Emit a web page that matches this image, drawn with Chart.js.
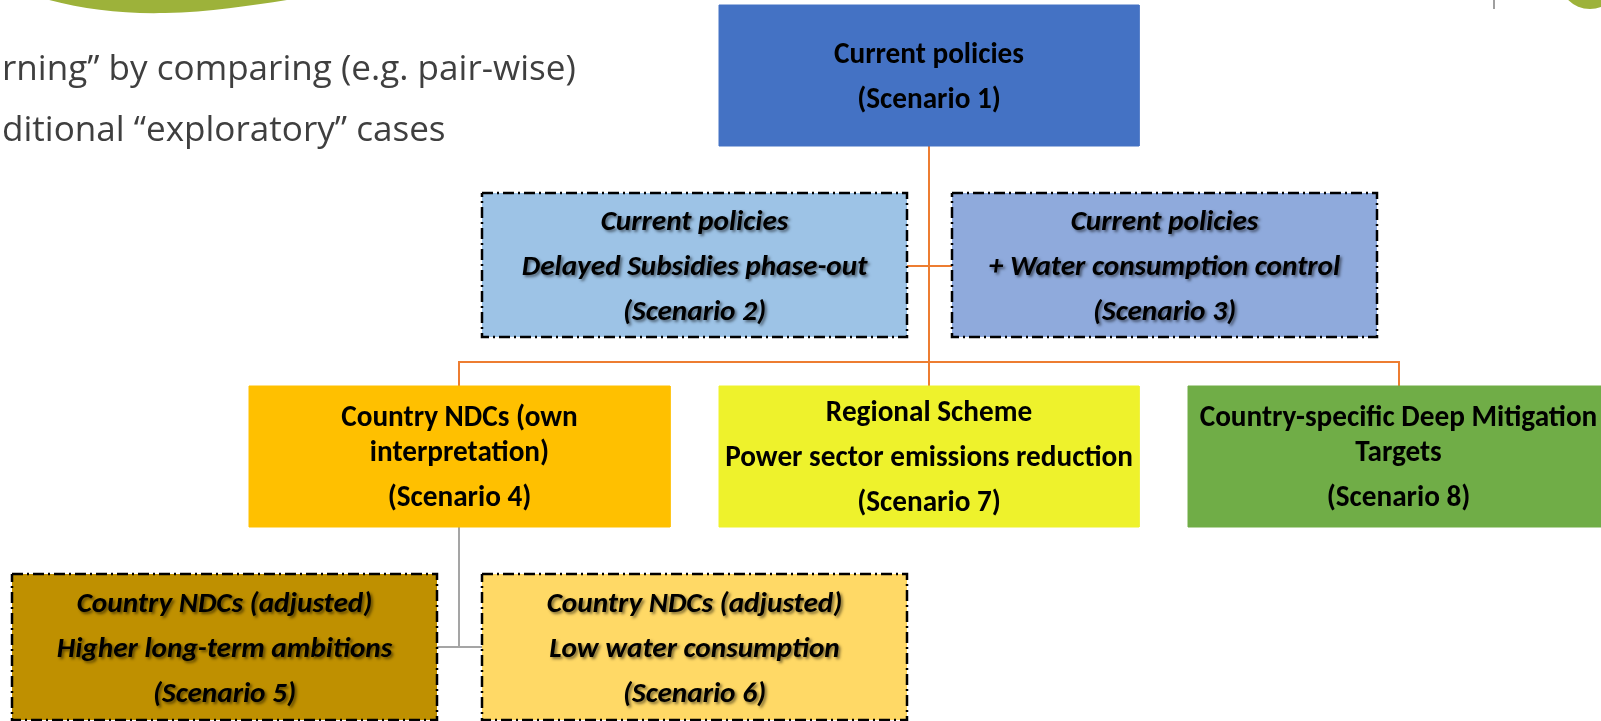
<!DOCTYPE html>
<html>
<head>
<meta charset="utf-8">
<script src="https://cdn.jsdelivr.net/npm/chart.js@4.4.1/dist/chart.umd.min.js"></script>
<style>
html, body { margin: 0; padding: 0; background: #ffffff; overflow: hidden; }
#wrap { position: relative; width: 1601px; height: 721px; }
</style>
</head>
<body>
<div id="wrap"><canvas id="diagram"></canvas></div>
<script>
// scenario boxes, in slide units (x to the right, y downwards)
const scenarios = ['Scenario 1', 'Scenario 2', 'Scenario 3', 'Scenario 4', 'Scenario 5', 'Scenario 6', 'Scenario 7', 'Scenario 8'];
const boxLeft   = [719, 482, 952, 249, 12, 482, 719, 1188];
const boxRight  = [1139, 907, 1377, 670, 437, 907, 1139, 1609];
const boxTop    = [5, 193, 193, 386, 574, 574, 386, 386];
const boxBottom = [146, 337, 337, 527, 720, 720, 527, 527];
// paragraphs per box, each paragraph may wrap over several lines
const boxText = [
    [['Current policies'], ['(Scenario 1)']],
    [['Current policies'], ['Delayed Subsidies phase-out'], ['(Scenario 2)']],
    [['Current policies'], ['+ Water consumption control'], ['(Scenario 3)']],
    [['Country NDCs (own', 'interpretation)'], ['(Scenario 4)']],
    [['Country NDCs (adjusted)'], ['Higher long-term ambitions'], ['(Scenario 5)']],
    [['Country NDCs (adjusted)'], ['Low water consumption'], ['(Scenario 6)']],
    [['Regional Scheme'], ['Power sector emissions reduction'], ['(Scenario 7)']],
    [['Country-specific Deep Mitigation', 'Targets'], ['(Scenario 8)']]
];
const exploratory = [false, true, true, false, true, true, false, false];

// connectors
const orangeLinks = [
    [[929, 146], [929, 386]],
    [[907, 266], [952, 266]],
    [[459, 386], [459, 362], [1399, 362], [1399, 386]]
];
const greyLinks = [
    [[459, 527], [459, 647]],
    [[437, 647], [482, 647]]
];

// slide body text (cut at the left edge in the original)
const slideText = ['rning\u201D by comparing (e.g. pair-wise)', 'ditional \u201Cexploratory\u201D cases'];
const slideTextY = [70, 131];

// styles
const boxColors = ['#4472C4', '#9DC3E6', '#8FAADC', '#FFC000', '#BF9000', '#FFD966', '#EEF22C', '#70AD47'];
const orange = '#ED7D31';
const grey = '#A5A5A5';
const slideGreen = '#9DB23A';

function pickFont(list) {
    const c = document.createElement('canvas').getContext('2d');
    const probe = 'Power sector emissions reduction WMwm';
    for (const name of list) {
        let same = true;
        for (const fb of ['monospace', 'serif']) {
            c.font = 'bold 60px ' + fb;
            const a = c.measureText(probe).width;
            c.font = 'bold 60px "' + name + '", ' + fb;
            if (c.measureText(probe).width !== a) { same = false; }
        }
        if (!same) return '"' + name + '"';
    }
    return 'sans-serif';
}
const boxFamily = pickFont(['Carlito', 'Liberation Sans Narrow', 'Roboto', 'Liberation Sans']);
const bodyFamily = pickFont(['Open Sans', 'Noto Sans', 'DejaVu Sans']);

function fitSize(font, text, target) {
    const c = document.createElement('canvas').getContext('2d');
    c.font = font.replace('SIZE', '100px');
    return 100 * target / c.measureText(text).width;
}
const boxSize = fitSize('bold SIZE ' + boxFamily, 'Power sector emissions reduction', 408);
const bodySize = fitSize('SIZE ' + bodyFamily, slideText[0], 574);

const datasets = [];
orangeLinks.concat(greyLinks).forEach((path, i) => {
    datasets.push({
        data: path.map(p => ({ x: p[0], y: p[1] })),
        showLine: true,
        borderColor: i < orangeLinks.length ? orange : grey,
        borderWidth: 2,
        pointRadius: 0,
        tension: 0,
        fill: false,
        order: 2
    });
});
scenarios.forEach((name, i) => {
    const l = boxLeft[i], r = boxRight[i], t = boxTop[i], b = boxBottom[i];
    datasets.push({
        label: name,
        data: [{ x: l, y: t }, { x: r, y: t }, { x: r, y: b }, { x: l, y: b }, { x: l, y: t }],
        showLine: true,
        fill: 'shape',
        backgroundColor: boxColors[i],
        borderColor: exploratory[i] ? '#000000' : boxColors[i],
        borderWidth: exploratory[i] ? 2.5 : 1,
        borderDash: exploratory[i] ? [11, 4, 2, 4] : [],
        borderJoinStyle: 'miter',
        pointRadius: 0,
        tension: 0,
        order: 1
    });
});

const decorations = {
    id: 'decorations',
    beforeDatasetsDraw(chart) {
        const { ctx, scales: { x, y } } = chart;
        ctx.save();
        // green swoosh top left
        ctx.fillStyle = slideGreen;
        ctx.beginPath();
        ctx.moveTo(x.getPixelForValue(42), y.getPixelForValue(-2));
        ctx.bezierCurveTo(x.getPixelForValue(80), y.getPixelForValue(9), x.getPixelForValue(120), y.getPixelForValue(14), x.getPixelForValue(165), y.getPixelForValue(13));
        ctx.bezierCurveTo(x.getPixelForValue(215), y.getPixelForValue(12), x.getPixelForValue(260), y.getPixelForValue(4), x.getPixelForValue(300), y.getPixelForValue(-2));
        ctx.closePath();
        ctx.fill();
        // green disc and divider top right
        ctx.beginPath();
        ctx.arc(x.getPixelForValue(1590), y.getPixelForValue(-22), x.getPixelForValue(31) - x.getPixelForValue(0), 0, Math.PI * 2);
        ctx.fill();
        ctx.strokeStyle = '#7F7F7F';
        ctx.lineWidth = 1.5;
        ctx.beginPath();
        ctx.moveTo(x.getPixelForValue(1494), y.getPixelForValue(0));
        ctx.lineTo(x.getPixelForValue(1494), y.getPixelForValue(9));
        ctx.stroke();
        // body text
        ctx.fillStyle = '#3F3F3F';
        ctx.font = bodySize + 'px ' + bodyFamily;
        ctx.textAlign = 'left';
        ctx.textBaseline = 'middle';
        slideText.forEach((s, i) => ctx.fillText(s, x.getPixelForValue(2), y.getPixelForValue(slideTextY[i])));
        ctx.restore();
    },
    afterDatasetsDraw(chart) {
        const { ctx, scales: { x, y } } = chart;
        const paraGap = 45, wrapGap = 35;
        ctx.save();
        ctx.textAlign = 'center';
        ctx.textBaseline = 'middle';
        boxText.forEach((paras, i) => {
            const lines = [];
            let pos = 0;
            paras.forEach((para, p) => {
                if (p > 0) pos += paraGap;
                para.forEach((s, k) => {
                    if (k > 0) pos += wrapGap;
                    lines.push([s, pos]);
                });
            });
            const cx = x.getPixelForValue((boxLeft[i] + boxRight[i]) / 2);
            const cy = (boxTop[i] + boxBottom[i]) / 2 - pos / 2 + 2.5;
            ctx.font = (exploratory[i] ? 'italic ' : '') + 'bold ' + boxSize + 'px ' + boxFamily;
            if (exploratory[i]) {
                ctx.shadowColor = 'rgba(0,0,0,0.5)';
                ctx.shadowBlur = 3;
                ctx.shadowOffsetX = 2;
                ctx.shadowOffsetY = 2;
            } else {
                ctx.shadowColor = 'transparent';
            }
            ctx.fillStyle = '#000000';
            lines.forEach(([s, off]) => ctx.fillText(s, cx, y.getPixelForValue(cy + off)));
        });
        ctx.restore();
    }
};

new Chart(document.getElementById('diagram').getContext('2d'), {
    type: 'scatter',
    data: { datasets: datasets },
    options: {
        responsive: true,
        maintainAspectRatio: false,
        animation: false,
        events: [],
        layout: { padding: 0 },
        scales: {
            x: { type: 'linear', min: 0, max: 1601, display: false },
            y: { type: 'linear', min: 0, max: 721, reverse: true, display: false }
        },
        plugins: {
            legend: { display: false },
            tooltip: { enabled: false }
        }
    },
    plugins: [decorations]
});
</script>
</body>
</html>
